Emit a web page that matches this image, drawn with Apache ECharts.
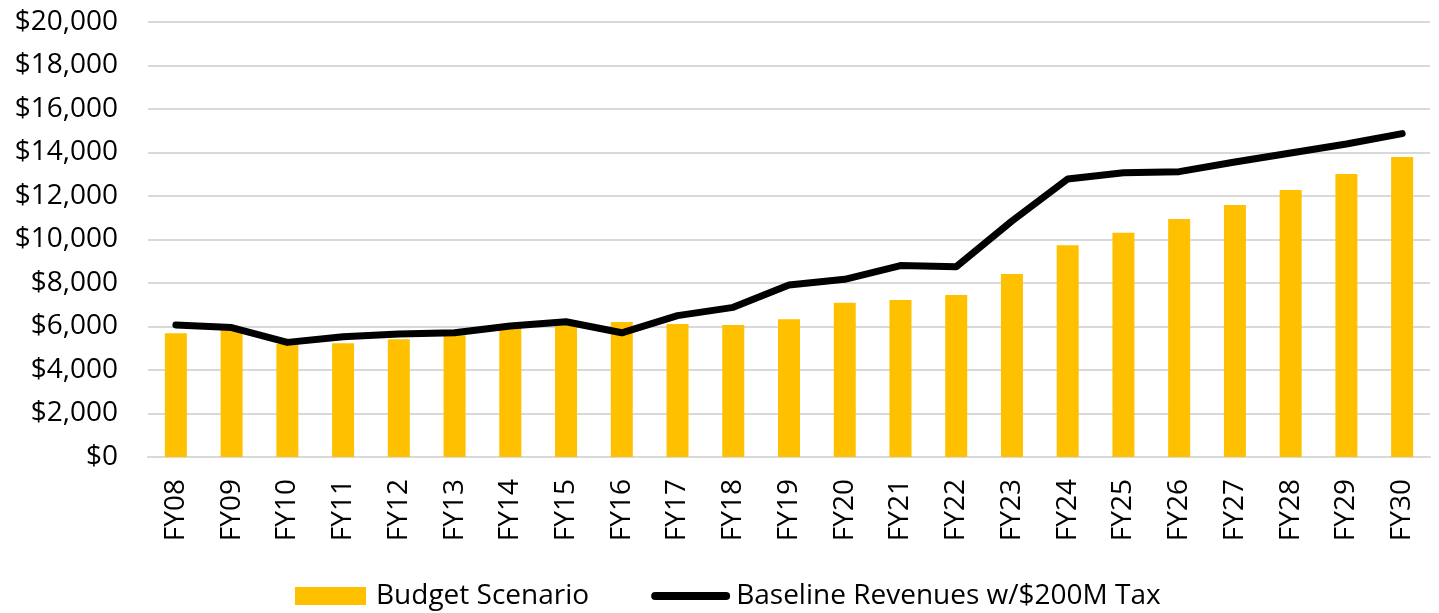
<!DOCTYPE html>
<html>
<head>
<meta charset="utf-8">
<script src="https://cdn.jsdelivr.net/npm/echarts@6/dist/echarts.min.js"></script>
<style>
  html, body { margin: 0; padding: 0; background: #fff; }
  #chart { width: 1439px; height: 613px; }
</style>
</head>
<body>
<div id="chart"></div>
<script>
// fiscal years on the x axis
var years = ["FY08", "FY09", "FY10", "FY11", "FY12", "FY13", "FY14", "FY15", "FY16", "FY17", "FY18", "FY19",
  "FY20", "FY21", "FY22", "FY23", "FY24", "FY25", "FY26", "FY27", "FY28", "FY29", "FY30"];

// bars
var budgetScenario = [5690, 5900, 5200, 5230, 5410, 5600, 5950, 6100, 6210, 6110, 6070, 6330,
  7090, 7220, 7450, 8410, 9730, 10310, 10940, 11590, 12280, 13010, 13790];

// black line
var baselineRevenues = [6070, 5950, 5270, 5530, 5660, 5710, 6020, 6220, 5710, 6500, 6880, 7910,
  8170, 8800, 8750, 10850, 12780, 13070, 13120, 13560, 13980, 14390, 14870];

var yTicks = { min: 0, max: 20000, interval: 2000 };

var font = "'Open Sans', sans-serif";
var chart = echarts.init(document.getElementById("chart"));

chart.setOption({
  animation: false,
  textStyle: { fontFamily: font, color: "#000" },
  grid: { left: 148, right: 9, top: 22, bottom: 156 },
  legend: {
    left: 290,
    top: 577,
    itemWidth: 71,
    itemHeight: 18,
    itemGap: 62,
    textStyle: { fontFamily: font, fontSize: 28, color: "#000", padding: [0, 0, 0, 5] },
    data: [
      { name: "Budget Scenario", icon: "rect" },
      {
        name: "Baseline Revenues w/$200M Tax",
        itemStyle: { opacity: 0 },
        lineStyle: { color: "#000", width: 8, cap: "round" }
      }
    ]
  },
  xAxis: {
    type: "category",
    data: years,
    axisLine: { lineStyle: { color: "#d9d9d9", width: 2 } },
    axisTick: { show: false },
    axisLabel: { rotate: 90, margin: 22, fontSize: 28, color: "#000", fontFamily: font, interval: 0 }
  },
  yAxis: {
    type: "value",
    min: yTicks.min,
    max: yTicks.max,
    interval: yTicks.interval,
    axisLine: { show: false },
    axisTick: { show: false },
    splitLine: { lineStyle: { color: "#d9d9d9", width: 2 } },
    axisLabel: {
      margin: 30,
      fontSize: 28,
      color: "#000",
      fontFamily: font,
      formatter: function (v) { return "$" + v.toLocaleString("en-US"); }
    }
  },
  series: [
    {
      name: "Budget Scenario",
      type: "bar",
      data: budgetScenario,
      barWidth: 22,
      itemStyle: { color: "#FFC000" }
    },
    {
      name: "Baseline Revenues w/$200M Tax",
      type: "line",
      data: baselineRevenues,
      symbol: "none",
      lineStyle: { color: "#000", width: 7, cap: "round", join: "round" },
      itemStyle: { color: "#000" }
    }
  ]
});
</script>
</body>
</html>
